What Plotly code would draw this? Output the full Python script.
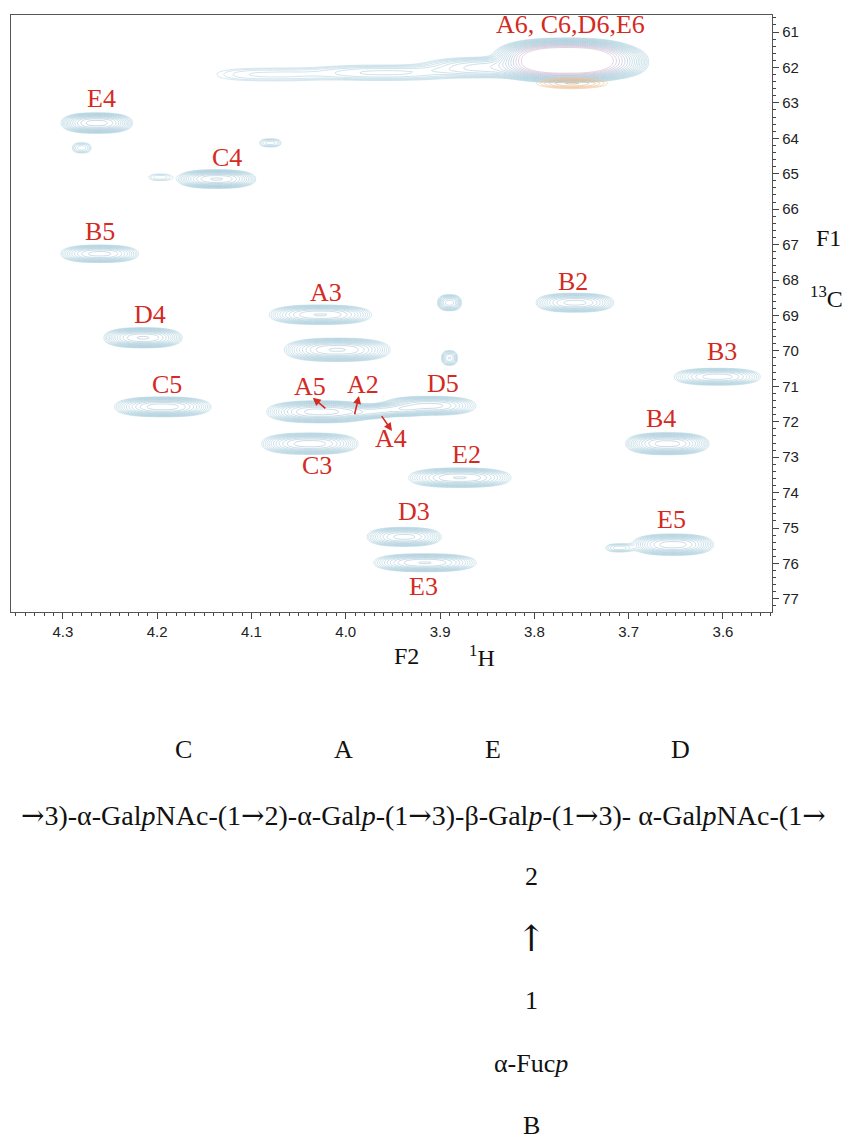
import numpy as np
import plotly.graph_objects as go

# ---- peak list (1H ppm, 13C ppm, widths, relative intensity) ----
peak_h = [3.766, 3.720, 3.840, 3.960, 4.080, 4.264, 4.280, 4.137, 4.197, 4.080, 4.261,
          4.027, 4.009, 4.215, 4.194, 4.027, 3.980, 3.948, 3.911, 4.038, 3.879,
          3.938, 3.916, 3.757, 3.890, 3.890, 3.606, 3.659, 3.653, 3.710]
peak_c = [61.80, 61.85, 62.00, 62.15, 62.20, 63.57, 64.27, 65.15, 65.10, 64.13, 67.26,
          68.98, 69.97, 69.63, 71.58, 71.72, 71.72, 71.66, 71.55, 72.62, 73.58,
          75.25, 75.98, 68.64, 68.64, 70.20, 70.73, 72.62, 75.47, 75.56]
peak_wh = [0.030, 0.020, 0.045, 0.050, 0.045, 0.018, 0.007, 0.020, 0.010, 0.008, 0.021,
           0.027, 0.027, 0.020, 0.025, 0.027, 0.017, 0.017, 0.025, 0.025, 0.027,
           0.020, 0.027, 0.021, 0.007, 0.005, 0.024, 0.021, 0.021, 0.010]
peak_wc = [0.22, 0.20, 0.16, 0.14, 0.14, 0.13, 0.10, 0.12, 0.08, 0.08, 0.12,
           0.13, 0.15, 0.13, 0.13, 0.14, 0.10, 0.10, 0.13, 0.14, 0.13,
           0.13, 0.12, 0.13, 0.12, 0.12, 0.12, 0.14, 0.14, 0.08]
peak_amp = [80.0, 3.0, 1.2, 0.6, 0.35, 4.5, 0.5, 4.0, 0.3, 0.5, 2.5,
            3.0, 4.0, 4.0, 3.5, 4.5, 1.5, 1.5, 2.5, 3.5, 3.0,
            2.5, 3.0, 2.5, 1.5, 1.0, 2.0, 4.5, 3.5, 0.5]
neg_h = [3.760]
neg_c = [62.45]
neg_wh = [0.020]
neg_wc = [0.08]
neg_amp = [1.5]

# ---- labels ----
lab_text = ["A6, C6,D6,E6", "E4", "C4", "B5", "A3", "D4", "C5", "A5", "A2", "A4",
            "C3", "D3", "E3", "D5", "E2", "B2", "B3", "B4", "E5"]
lab_h = [3.762, 4.259, 4.126, 4.261, 4.021, 4.208, 4.190, 4.038, 3.982, 3.952,
         4.030, 3.928, 3.918, 3.897, 3.872, 3.759, 3.601, 3.666, 3.655]
lab_c = [60.80, 62.89, 64.53, 66.64, 68.36, 68.98, 70.96, 71.01, 70.96, 72.48,
         73.24, 74.54, 76.66, 70.93, 72.93, 68.05, 70.03, 71.92, 74.77]
# arrows: head and tail positions
arrow_head_h = [4.035, 3.986, 3.951]
arrow_head_c = [71.32, 71.27, 72.26]
arrow_tail_h = [4.020, 3.991, 3.963]
arrow_tail_c = [71.66, 71.83, 71.80]

x_ticks = [4.3, 4.2, 4.1, 4.0, 3.9, 3.8, 3.7, 3.6]
y_ticks = list(range(61, 78))
x_range = [4.355, 3.548]
y_range = [77.37, 60.52]

# ---- build spectrum grid from peak list ----
xg = np.linspace(3.548, 4.355, 420)
yg = np.linspace(60.5, 77.4, 460)
X, Y = np.meshgrid(xg, yg)
Z = np.zeros_like(X)
for h, c, wh, wc, a in zip(peak_h, peak_c, peak_wh, peak_wc, peak_amp):
    Z += a * np.exp(-0.5 * np.abs((X - h) / wh) ** 2.6 - 0.5 * np.abs((Y - c) / wc) ** 2.4)
ZN = np.zeros_like(X)
for h, c, wh, wc, a in zip(neg_h, neg_c, neg_wh, neg_wc, neg_amp):
    ZN += a * np.exp(-0.5 * ((X - h) / wh) ** 2 - 0.5 * ((Y - c) / wc) ** 2)

LZ = np.log10(Z + 1e-6)
LN = np.log10(ZN + 1e-6)

fig = go.Figure()
fig.add_trace(go.Contour(
    x=xg, y=yg, z=LZ,
    contours=dict(coloring="lines", start=-0.85, end=1.3, size=0.12),
    colorscale=[[0, "#aacfdc"], [0.45, "#94c0d1"], [0.7, "#96b6cb"],
                [0.85, "#aaa8c8"], [1, "#c6a6c2"]],
    line=dict(width=0.5), showscale=False, hoverinfo="skip",
))
fig.add_trace(go.Contour(
    x=xg, y=yg, z=LN,
    contours=dict(coloring="lines", start=-0.6, end=0.2, size=0.15),
    colorscale=[[0, "#f0c8a0"], [1, "#e8a870"]],
    line=dict(width=0.6), showscale=False, hoverinfo="skip",
))

red = "#d42a1f"
serif = "Liberation Serif, Times New Roman, serif"
annotations = []
for t, h, c in zip(lab_text, lab_h, lab_c):
    annotations.append(dict(x=h, y=c, xref="x", yref="y", text=t, showarrow=False,
                            font=dict(family=serif, size=26, color=red)))
for hh, hc, th, tc in zip(arrow_head_h, arrow_head_c, arrow_tail_h, arrow_tail_c):
    annotations.append(dict(x=hh, y=hc, ax=th, ay=tc, xref="x", yref="y",
                            axref="x", ayref="y", text="", showarrow=True,
                            arrowhead=2, arrowsize=1, arrowwidth=1.6, arrowcolor=red))

AR = '<span style="font-family:DejaVu Serif">{}</span>'
black = "#111111"
formula = ("{r}3)-α-Gal<i>p</i>NAc-(1{r}2)-α-Gal<i>p</i>-(1{r}3)-β-Gal<i>p</i>-(1{r}3)-"
           " α-Gal<i>p</i>NAc-(1{r}").format(r=AR.format("→"))
paper_texts = [
    ("F2", 406, 656, 24), ("<sup>1</sup>H", 482, 656, 24),
    ("F1", 829, 238, 24), ("<sup>13</sup>C", 826, 297, 24),
    ("C", 183, 750, 26), ("A", 343, 750, 26), ("E", 493, 750, 26), ("D", 680, 750, 26),
    (formula, 423, 815, 28),
    ("2", 531, 876, 26), (AR.format("↑"), 531, 938, 36), ("1", 531, 1000, 26),
    ("α-Fuc<i>p</i>", 531, 1063, 26), ("B", 531, 1125, 26),
]
W, H = 842, 1140
L, R, T, B = 11, 70, 15, 528
for t, px, py, fs in paper_texts:
    annotations.append(dict(x=(px - L) / (W - L - R), y=1 - (py - T) / (H - T - B),
                            xref="paper", yref="paper",
                            text=t, showarrow=False, xanchor="center", yanchor="middle",
                            font=dict(family=serif, size=fs, color=black)))

tickfont = dict(family="Liberation Sans Narrow, Arial Narrow, Liberation Sans", size=15, color="#222")
fig.update_layout(
    width=W, height=H, margin=dict(l=L, r=R, t=T, b=B),
    paper_bgcolor="white", plot_bgcolor="white", showlegend=False,
    annotations=annotations,
    xaxis=dict(range=x_range, tickvals=x_ticks, ticktext=[f"{v:.1f}" for v in x_ticks],
               ticks="outside", ticklen=6, tickwidth=1, tickcolor="#444",
               minor=dict(dtick=0.01, ticks="outside", ticklen=3, tickcolor="#444"),
               showline=True, linecolor="#555", linewidth=1.3, mirror=True,
               showgrid=False, zeroline=False, tickfont=tickfont),
    yaxis=dict(range=y_range, side="right", tickvals=y_ticks,
               ticks="outside", ticklen=6, tickwidth=1, tickcolor="#444",
               minor=dict(dtick=0.2, ticks="outside", ticklen=3, tickcolor="#444"),
               showline=True, linecolor="#555", linewidth=1.3, mirror=True,
               showgrid=False, zeroline=False, tickfont=tickfont),
)
fig.write_html("out.html", config={"displayModeBar": False},
               post_script="document.body.style.margin='0';document.body.style.overflow='hidden';")
